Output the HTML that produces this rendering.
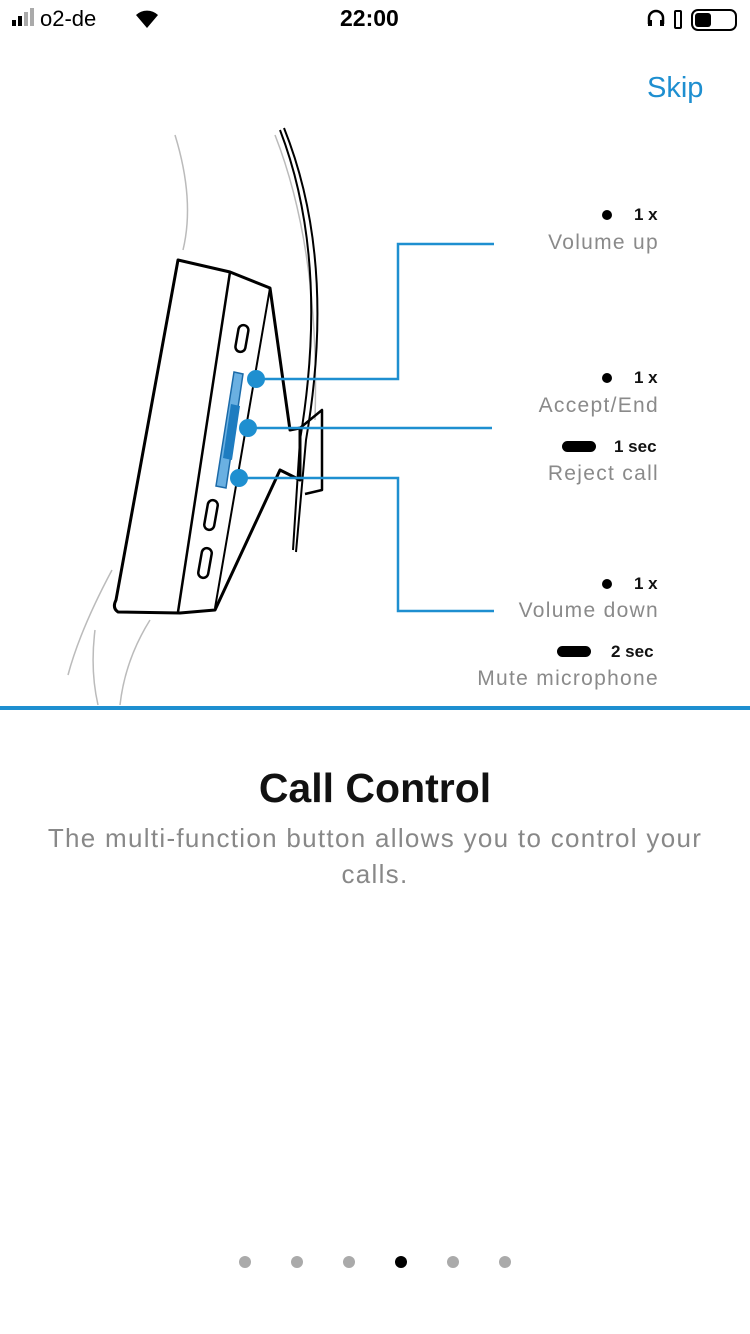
<!DOCTYPE html>
<html><head><meta charset="utf-8"><style>
body{margin:0;width:750px;height:1334px;background:#fff;font-family:"Liberation Sans",sans-serif;position:relative;overflow:hidden}
.t{position:absolute;white-space:nowrap}
.g{color:#8a8a8a;font-size:21px;letter-spacing:1.3px}
.b{color:#111;font-size:17px;font-weight:bold}
</style></head><body>
<div class="t" style="left:40px;top:6px;font-size:22px;color:#000">o2-de</div>
<div style="position:absolute;left:12px;top:20px;width:4px;height:6px;background:#000"></div>
<div style="position:absolute;left:18px;top:16px;width:4px;height:10px;background:#000"></div>
<div style="position:absolute;left:24px;top:12px;width:4px;height:14px;background:#aaa"></div>
<div style="position:absolute;left:30px;top:8px;width:4px;height:18px;background:#aaa"></div>
<svg style="position:absolute;left:134px;top:6px" width="26" height="24"><path d="M13 22 L2 9 A16 16 0 0 1 24 9 Z" fill="#000"/></svg>
<div class="t" style="left:340px;top:5px;font-size:23px;font-weight:bold">22:00</div>
<svg style="position:absolute;left:646px;top:6px" width="95" height="26"><path d="M3 18 V12 A7 7 0 0 1 17 12 V18" fill="none" stroke="#000" stroke-width="2.5"/><rect x="2" y="14" width="4" height="6" fill="#000"/><rect x="14" y="14" width="4" height="6" fill="#000"/><rect x="29" y="5" width="6" height="17" rx="1" fill="none" stroke="#000" stroke-width="2"/><rect x="46" y="4" width="44" height="20" rx="6" fill="none" stroke="#000" stroke-width="2"/><rect x="49" y="7" width="16" height="14" rx="3" fill="#000"/></svg>
<div class="t" style="left:647px;top:72px;font-size:29px;color:#1e8fd0">Skip</div>
<svg style="position:absolute;left:0;top:0" width="750" height="720">
<g fill="none" stroke="#bbb" stroke-width="1.5">
<path d="M175 135 Q195 200 183 250"/>
<path d="M275 135 Q320 250 315 420"/>
<path d="M112 570 Q80 630 68 675"/>
<path d="M95 630 Q90 670 98 705"/>
<path d="M150 620 Q125 660 120 705"/>
</g>
<g fill="none" stroke="#000" stroke-width="2.5" stroke-linejoin="round">
<path d="M280 130 Q330 260 300 440 L293 550" stroke-width="2"/>
<path d="M284 128 Q337 260 306 440 L296 552" stroke-width="2"/>
<path d="M178 260 L230 272 L270 288 L290 430 L300 428 L300 480 L280 470 L215 610 L180 613 L118 612 Q112 608 116 600 Z" stroke-width="3"/>
<path d="M230 272 L178 612"/>
<path d="M270 288 L215 608" stroke-width="2"/>
<path d="M300 428 L322 410 L322 490 L305 494"/>
<rect x="237" y="325" width="10" height="27" rx="5" transform="rotate(10 242 338)"/>
<rect x="206" y="500" width="10" height="30" rx="5" transform="rotate(10 211 515)"/>
<rect x="200" y="548" width="10" height="30" rx="5" transform="rotate(10 205 563)"/>
</g>
<path d="M234 372 L243 374 L226 488 L216 486 Z" fill="#6ab0e2" stroke="#1b6aa8" stroke-width="1.5"/>
<path d="M231 404 L240 406 L232 460 L223 458 Z" fill="#1e7cc0"/>
<g stroke="#1e8fd0" stroke-width="2.5" fill="none">
<path d="M256 379 H398 V244 H494"/>
<path d="M248 428 H492"/>
<path d="M239 478 H398 V611 H494"/>
</g>
<g fill="#1e8fd0"><circle cx="256" cy="379" r="9"/><circle cx="248" cy="428" r="9"/><circle cx="239" cy="478" r="9"/></g>
<rect x="0" y="706" width="750" height="4" fill="#1e8fd0"/>
</svg>
<div style="position:absolute;left:602px;top:210px;width:10px;height:10px;border-radius:5px;background:#000"></div>
<div class="t b" style="left:634px;top:205px">1 x</div>
<div class="t g" style="right:91px;top:231px">Volume up</div>
<div style="position:absolute;left:602px;top:373px;width:10px;height:10px;border-radius:5px;background:#000"></div>
<div class="t b" style="left:634px;top:368px">1 x</div>
<div class="t g" style="right:91px;top:394px">Accept/End</div>
<div style="position:absolute;left:562px;top:441px;width:34px;height:11px;border-radius:6px;background:#000"></div>
<div class="t b" style="left:614px;top:437px">1 sec</div>
<div class="t g" style="right:91px;top:462px">Reject call</div>
<div style="position:absolute;left:602px;top:579px;width:10px;height:10px;border-radius:5px;background:#000"></div>
<div class="t b" style="left:634px;top:574px">1 x</div>
<div class="t g" style="right:91px;top:599px">Volume down</div>
<div style="position:absolute;left:557px;top:646px;width:34px;height:11px;border-radius:6px;background:#000"></div>
<div class="t b" style="left:611px;top:642px">2 sec</div>
<div class="t g" style="right:91px;top:667px">Mute microphone</div>
<div class="t" style="left:0;width:750px;text-align:center;top:765px;font-size:41px;font-weight:bold;color:#111">Call Control</div>
<div class="t" style="left:0;width:750px;text-align:center;top:820px;font-size:26px;letter-spacing:1.3px;color:#888;line-height:36px;white-space:normal">The multi-function button allows you to control your<br>calls.</div>
<svg style="position:absolute;left:0;top:1250px" width="750" height="24">
<g fill="#aaa"><circle cx="245" cy="12" r="6"/><circle cx="297" cy="12" r="6"/><circle cx="349" cy="12" r="6"/><circle cx="453" cy="12" r="6"/><circle cx="505" cy="12" r="6"/></g>
<circle cx="401" cy="12" r="6" fill="#000"/></svg>
</body></html>
